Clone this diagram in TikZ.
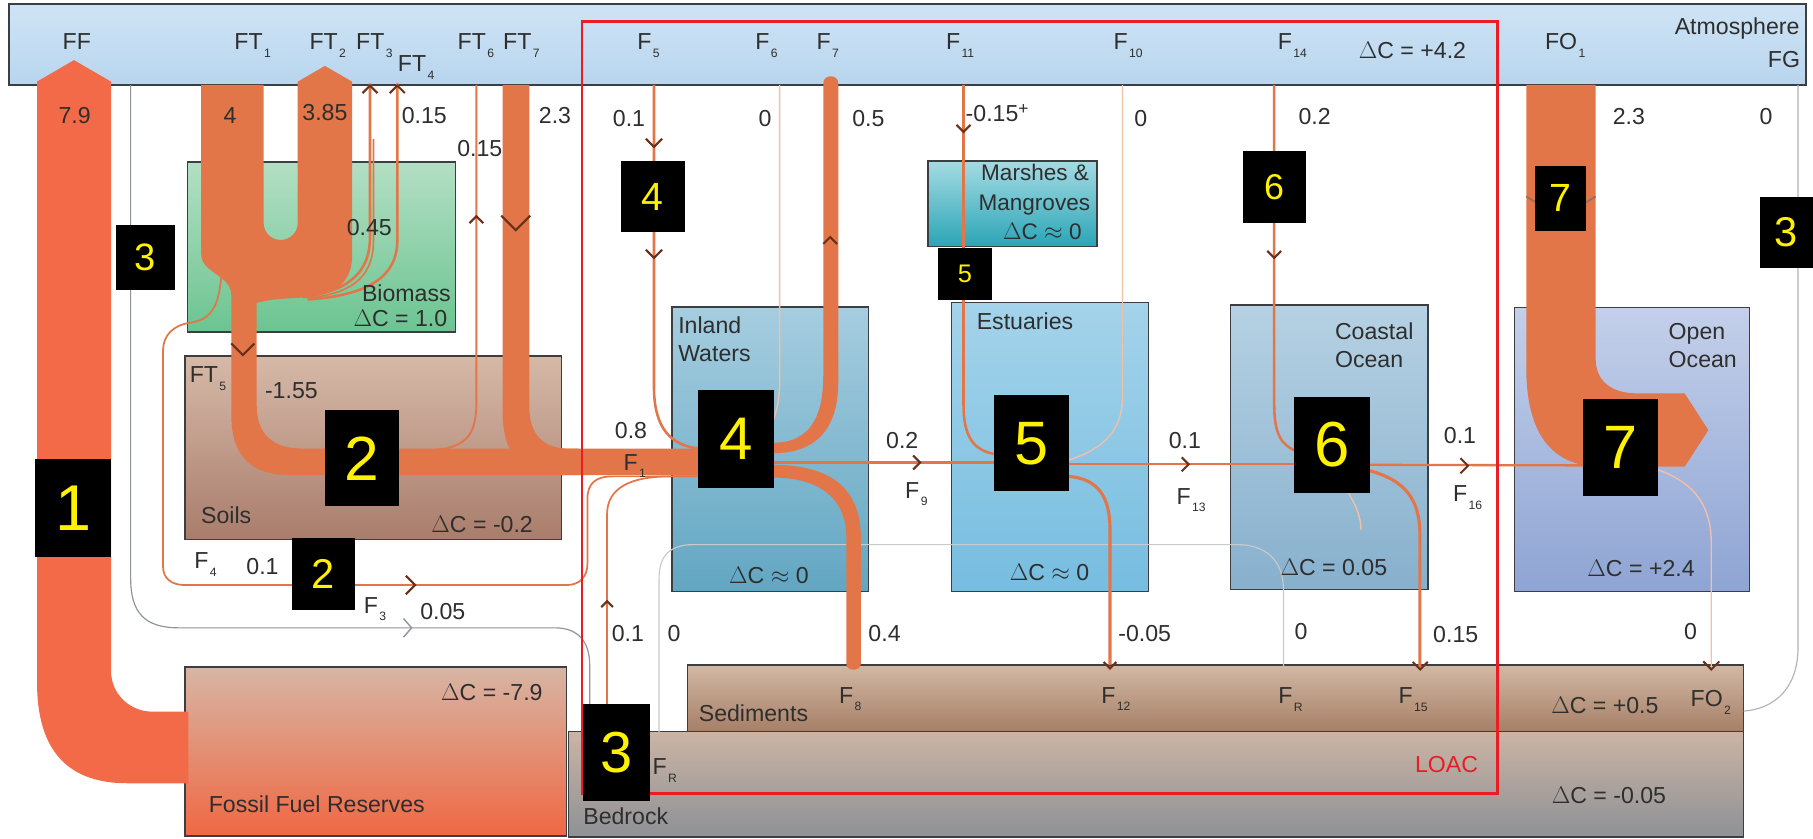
\documentclass[tikz,border=0pt]{standalone}
\usepackage{fontspec}
\setmainfont{Liberation Sans}
\definecolor{flowc}{HTML}{E27649}
\definecolor{ffc}{HTML}{F26A47}
\definecolor{chevc}{HTML}{6B3018}
\definecolor{txt}{HTML}{2E2E2E}
\definecolor{edge}{HTML}{3C3F42}
\definecolor{loac}{HTML}{EC1C24}
\definecolor{lightf}{HTML}{F2C0A8}
\definecolor{grayl}{HTML}{8E949A}
\definecolor{grayll}{HTML}{C8CACC}
\definecolor{atmT}{HTML}{CFE4F5}
\definecolor{atmB}{HTML}{B8D5EE}
\definecolor{bioT}{HTML}{B3DFC4}
\definecolor{bioB}{HTML}{6CC491}
\definecolor{soiT}{HTML}{D6B9A8}
\definecolor{soiB}{HTML}{A97D6C}
\definecolor{ffrT}{HTML}{D7B5A4}
\definecolor{ffrB}{HTML}{F06843}
\definecolor{bedT}{HTML}{CBB4A4}
\definecolor{bedB}{HTML}{8E9196}
\definecolor{sedT}{HTML}{D2B8A4}
\definecolor{sedB}{HTML}{A67F66}
\definecolor{inlT}{HTML}{A6CDE0}
\definecolor{inlB}{HTML}{62A6C2}
\definecolor{estT}{HTML}{A4D3EA}
\definecolor{estB}{HTML}{76BDE0}
\definecolor{marT}{HTML}{A5DBE3}
\definecolor{marB}{HTML}{2AA5B6}
\definecolor{coaT}{HTML}{B6D1E3}
\definecolor{coaB}{HTML}{87B0CD}
\definecolor{opeT}{HTML}{C4D0EA}
\definecolor{opeB}{HTML}{8EA4D3}
\newcommand\fsN{\fontsize{20}{24}\selectfont}
\newcommand\sbs[1]{\hspace{1.2pt}\raisebox{-6.5pt}{\fontsize{10.5}{12}\selectfont #1}}
\newcommand\chD[3]{\draw[chev] (#1,#2) ++(-#3,-#3) -- ++(#3,#3) -- ++(#3,-#3);}
\newcommand\chU[3]{\draw[chev] (#1,#2) ++(-#3,#3) -- ++(#3,-#3) -- ++(#3,#3);}
\newcommand\chR[3]{\draw[chev] (#1,#2) ++(-#3,-#3) -- ++(#3,#3) -- ++(-#3,#3);}
\begin{document}
\begin{tikzpicture}[x=1pt,y=-1pt,
  box/.style={draw=edge, line width=1.3pt, inner sep=0pt, outer sep=0pt, anchor=north west},
  lab/.style={font=\fsN, text=txt, inner sep=0pt, anchor=base},
  labw/.style={lab, anchor=base west},
  labe/.style={lab, anchor=base east},
  mk/.style={fill=black, text=yellow, inner sep=0pt, outer sep=0pt, anchor=north west},
  chev/.style={draw=chevc, line width=1.8pt},
  thinf/.style={draw=flowc, line width=2.2pt}]
\useasboundingbox (0,0) rectangle (1568,725);
\fill[white] (0,0) rectangle (1568,725);

% ---------- compartments ----------
\node[box, top color=atmT, bottom color=atmB, minimum width=1554pt, minimum height=70pt] (atm) at (8,3.5) {};
\node[box, top color=bioT, bottom color=bioB, minimum width=232pt, minimum height=147pt] (biomass) at (162,140) {};
\node[box, top color=soiT, bottom color=soiB, minimum width=325.6pt, minimum height=158.5pt] (soils) at (160,308) {};
\node[box, top color=ffrT, bottom color=ffrB, minimum width=330pt, minimum height=146pt] (ffr) at (160,577) {};
\node[box, top color=bedT, bottom color=bedB, minimum width=1016.4pt, minimum height=91pt] (bedrock) at (491.6,632.8) {};
\node[box, top color=sedT, bottom color=sedB, minimum width=913.4pt, minimum height=57.8pt] (sed) at (594.6,575) {};
\node[box, top color=inlT, bottom color=inlB, minimum width=170.3pt, minimum height=246.4pt] (inland) at (581,265.3) {};
\node[box, top color=estT, bottom color=estB, minimum width=170.4pt, minimum height=249.9pt] (estu) at (823,261.8) {};
\node[box, top color=marT, bottom color=marB, minimum width=146.1pt, minimum height=74.1pt] (marsh) at (802.5,139.2) {};
\node[box, top color=coaT, bottom color=coaB, minimum width=170.8pt, minimum height=245.9pt] (coast) at (1064.4,263.8) {};
\node[box, top color=opeT, bottom color=opeB, minimum width=203pt, minimum height=245.9pt] (open) at (1310,265.8) {};

% ---------- grey (zero / weathering) lines ----------
\draw[grayl, line width=1pt] (113,73.5) -- (113,500) .. controls (113,530) and (125,543) .. (155,543) -- (480,543) .. controls (500,543) and (510,555) .. (510,575) -- (510,633);
\draw[grayl!70, line width=1pt] (1555,73.5) -- (1555,560) .. controls (1555,595) and (1535,613) .. (1508,615);
\draw[grayll, line width=1pt] (570,633) -- (570,500) .. controls (570,480) and (580,471) .. (600,471) -- (1070,471) .. controls (1095,471) and (1110,485) .. (1110,510) -- (1110,576);
\draw[grayl, line width=1.2pt] (356,543) ++(-7,-8) -- ++(7,8) -- ++(-7,8);

% ---------- light (zero) flows ----------
\draw[lightf, line width=1.2pt] (674.3,73.5) -- (674.3,328) .. controls (674.3,345) and (672,355) .. (668,365);
\draw[lightf, line width=1.2pt] (970.8,73.5) -- (970.8,343) .. controls (970.8,372) and (955,388) .. (924,398);
\draw[lightf, line width=1.2pt] (1166,426) .. controls (1172,436) and (1177,446) .. (1177,458);
\draw[lightf, line width=1.2pt] (1433,406) .. controls (1468,418) and (1480,440) .. (1480,470) -- (1480,577);

% ---------- fluxes ----------
% FF
\fill[ffc] (163,615.5) -- (132,615.5) .. controls (112,615.5) and (96,600) .. (96,580) -- (96,70.6) -- (64,52) -- (32,70.6) -- (32,590) .. controls (32,645) and (55,677.4) .. (110,677.4) -- (163,677.4) -- cycle;
% FT1 / FT2 U merging into FT5 -> F1
\fill[flowc] (174,73.5) -- (174,220) .. controls (174,236) and (200,238) .. (200,255) -- (200,358) .. controls (200,394) and (216,411) .. (252,411) -- (606,411) -- (606,388) -- (262,388) .. controls (236,388) and (222,376) .. (222,350) -- (222,262) .. controls (236,258) and (252,258) .. (268,257) .. controls (292,254) and (304.5,242) .. (304.5,222) -- (304.5,70.6) -- (281,57) -- (257.5,70.6) -- (257.5,192.75) .. controls (257.5,201) and (251,207.5) .. (242.75,207.5) .. controls (234.5,207.5) and (228,201) .. (228,192.75) -- (228,73.5) -- cycle;
% FT7
\fill[flowc] (434.6,73.5) -- (434.6,355) .. controls (434.6,395) and (452,411) .. (485,411) -- (500,411) -- (500,388) -- (492,388) .. controls (470,388) and (457.8,376) .. (457.8,352) -- (457.8,73.5) -- cycle;
% FT3, FT4, FT6
\draw[thinf] (320,72) -- (320,205) .. controls (320,240) and (296,252) .. (262,257);
\draw[flowc, line width=1.4pt] (323,120) -- (323,208) .. controls (323,243) and (300,254) .. (266,258);
\draw[thinf] (343.6,72) -- (343.6,208) .. controls (343.6,244) and (310,256) .. (266,259);
\draw[flowc, line width=1.6pt] (378,389) .. controls (404,386) and (412,375) .. (412,348) -- (412,73.5);
% F4 and bedrock flux
\draw[flowc, line width=1.5pt] (192,232) .. controls (190,262) and (185,276) .. (165,279) .. controls (150,281) and (141,290) .. (141,303) -- (141,490) .. controls (141,500) and (148,506) .. (160,506) -- (490,506) .. controls (502,506) and (508,498) .. (508,488) -- (508,432) .. controls (508,418) and (515,412) .. (530,412) -- (604,412);
\draw[flowc, line width=1.5pt] (525,633) -- (525,445) .. controls (525,422) and (545,412) .. (580,412) -- (604,412);
% F5, F7, F8
\draw[thinf] (565.6,73.5) -- (565.6,335) .. controls (565.6,370) and (580,386) .. (606,388);
\fill[flowc] (712,72) -- (712,325) .. controls (712,368) and (695,383) .. (668,383) -- (668,392) .. controls (705,392) and (725,372) .. (725,330) -- (725,72) .. controls (725,64) and (712,64) .. (712,72) -- cycle;
\fill[flowc] (668,402) .. controls (718,402) and (744.5,422) .. (744.5,465) -- (744.5,574) .. controls (744.5,581) and (732,581) .. (732,574) -- (732,465) .. controls (732,432) and (710,413) .. (668,413) -- cycle;
% F9, F11, F12, F13
\draw[flowc, line width=3.2pt] (668,400) -- (862,400);
\draw[thinf] (833.3,73.5) -- (833.3,350) .. controls (833.3,378) and (842,390) .. (862,393);
\draw[flowc, line width=2.7pt] (924,412) .. controls (950,414) and (960,430) .. (960,458) -- (960,575);
\draw[flowc, line width=2pt] (924,401.5) -- (1121,401.5);
% F14, F15, F16
\draw[thinf] (1102,73.5) -- (1102,350) .. controls (1102,375) and (1108,385) .. (1121,390);
\draw[flowc, line width=2.7pt] (1184,407) .. controls (1215,415) and (1228,432) .. (1228,462) -- (1228,577);
\draw[flowc, line width=2pt] (1184,402) -- (1371,402.5);
% FO1
\fill[flowc] (1320,73.5) -- (1320,318) .. controls (1320,375) and (1342,403.6) .. (1385,403.6) -- (1457,403.6) -- (1477.5,372) -- (1457,340.2) -- (1416,340.2) .. controls (1394,340.2) and (1380,330) .. (1380,310) -- (1380,73.5) -- cycle;

% ---------- chevrons ----------
\chD{210}{307}{10}
\chD{446}{199}{12.5}
\chU{412}{187}{6}
\chU{320}{74}{6.5}
\chU{343.6}{74}{6.5}
\chD{565.6}{127}{7}
\chD{565.6}{223}{7}
\chU{718}{205}{6}
\chD{833.3}{114}{6}
\chD{1102}{223}{6}
\chR{359}{506}{8}
\chR{795.7}{400}{6}
\chR{1028}{401.6}{6}
\chR{1269.6}{402.8}{6.5}
\chU{525}{520}{5}
\chD{960}{578}{5.5}
\chD{1228.3}{579}{6.5}
\chD{1480}{579}{7}
\draw[chevc!70, line width=1.5pt] (1320,170) -- (1350,188) -- (1380,170);

% ---------- LOAC frame ----------
\node[draw=loac, line width=2.5pt, inner sep=0pt, outer sep=0pt, anchor=north west, minimum width=792pt, minimum height=667.3pt] (loacbox) at (503.3,18.7) {};

% ---------- labels: atmosphere row ----------
\node[labw] (tFF) at (54,43) {FF};
\node[labw] (tFT1) at (202.6,43) {FT\sbs{1}};
\node[labw] (tFT2) at (267.5,43) {FT\sbs{2}};
\node[labw] (tFT3) at (307.8,43) {FT\sbs{3}};
\node[labw] (tFT4) at (344,62) {FT\sbs{4}};
\node[labw] (tFT6) at (395.6,43) {FT\sbs{6}};
\node[labw] (tFT7) at (435,43) {FT\sbs{7}};
\node[labw] (tF5) at (551,43) {F\sbs{5}};
\node[labw] (tF6) at (653,43) {F\sbs{6}};
\node[labw] (tF7) at (706,43) {F\sbs{7}};
\node[labw] (tF11) at (818,43) {F\sbs{11}};
\node[labw] (tF10) at (963,43) {F\sbs{10}};
\node[labw] (tF14) at (1105,43) {F\sbs{14}};
\node[labw] (tdA) at (1175,51) {$\Delta$C = +4.2};
\node[labw] (tFO1) at (1336,43) {FO\sbs{1}};
\node[labe] (tatm) at (1556.5,30) {Atmosphere};
\node[labe] (tFG) at (1557,58.5) {FG};

% ---------- labels: flux values ----------
\node[lab] (v1) at (64.5,107) {7.9};
\node[lab] (v2) at (199,107) {4};
\node[lab] (v3) at (281,104.5) {3.85};
\node[lab] (v4) at (367,107) {0.15};
\node[lab] (v5) at (415,135) {0.15};
\node[lab] (v6) at (480,107) {2.3};
\node[lab] (v7) at (319.4,204) {0.45};
\node[lab] (v8) at (544,109) {0.1};
\node[lab] (v9) at (661.7,109) {0};
\node[lab] (v10) at (751,109) {0.5};
\node[labw] (v11) at (835,105) {-0.15\raisebox{6pt}{\fontsize{15}{16}\selectfont +}};
\node[lab] (v12) at (986.6,109) {0};
\node[lab] (v13) at (1137,108) {0.2};
\node[lab] (v14) at (1408.7,108) {2.3};
\node[lab] (v15) at (1527.3,108) {0};

% ---------- labels: land ----------
\node[labe] (tbio) at (390,261) {Biomass};
\node[labe] (tbioC) at (387,282) {$\Delta$C = 1.0};
\node[labw] (tFT5) at (164,331) {FT\sbs{5}};
\node[lab] (v16) at (252,344.5) {-1.55};
\node[labw] (tsoil) at (173.8,453) {Soils};
\node[lab] (tsoilC) at (417,460.7) {$\Delta$C = -0.2};
\node[labw] (tF4) at (168,492) {F\sbs{4}};
\node[lab] (v17) at (227,497) {0.1};
\node[labw] (tF3) at (314.5,530.4) {F\sbs{3}};
\node[lab] (v18) at (383,535.6) {0.05};
\node[lab] (tffC) at (425.4,606) {$\Delta$C = -7.9};
\node[labw] (tffr) at (180.4,702.5) {Fossil Fuel Reserves};

% ---------- labels: aquatic ----------
\node[lab] (v19) at (545.7,379) {0.8};
\node[labw] (tF1) at (539.2,406.5) {F\sbs{1}};
\node[labw] (tin1) at (586.4,288.3) {Inland};
\node[labw] (tin2) at (586.4,312.8) {Waters};
\node[lab] (tinC) at (665,505) {$\Delta$C $\approx$ 0};
\node[labw] (tes) at (844.6,285.4) {Estuaries};
\node[lab] (tesC) at (907.7,502) {$\Delta$C $\approx$ 0};
\node[labe, font=\fontsize{19.5}{22}\selectfont] (tma1) at (942,156.5) {Marshes \&};
\node[labe, font=\fontsize{19.5}{22}\selectfont] (tma2) at (943,182) {Mangroves};
\node[lab, font=\fontsize{19.5}{22}\selectfont] (tmaC) at (901.5,207) {$\Delta$C $\approx$ 0};
\node[lab] (v20) at (780.3,387.8) {0.2};
\node[labw] (tF9) at (782.7,431) {F\sbs{9}};
\node[lab] (v21) at (1024.8,387.8) {0.1};
\node[labw] (tF13) at (1017.3,436) {F\sbs{13}};
\node[labw] (tco1) at (1154.4,293.5) {Coastal};
\node[labw] (tco2) at (1154.4,317.7) {Ocean};
\node[lab] (tcoC) at (1153.6,497.3) {$\Delta$C = 0.05};
\node[lab] (v22) at (1262.7,383.5) {0.1};
\node[labw] (tF16) at (1256.5,433.9) {F\sbs{16}};
\node[labw] (top1) at (1443,294) {Open};
\node[labw] (top2) at (1443,317.7) {Ocean};
\node[lab] (topC) at (1419.3,498.7) {$\Delta$C = +2.4};

% ---------- labels: sediments / bedrock ----------
\node[lab] (v23) at (543,555) {0.1};
\node[lab] (v24) at (583,555) {0};
\node[lab] (v25) at (765,555) {0.4};
\node[lab] (v26) at (990,555) {-0.05};
\node[lab] (v27) at (1125.2,553.5) {0};
\node[lab] (v28) at (1259,555.8) {0.15};
\node[lab] (v29) at (1462,553.5) {0};
\node[labw] (tsed) at (604.2,624) {Sediments};
\node[labw] (tF8) at (725.6,608.3) {F\sbs{8}};
\node[labw] (tF12) at (952.3,608.3) {F\sbs{12}};
\node[labw] (tFR2) at (1105.3,608.8) {F\sbs{R}};
\node[labw] (tF15) at (1209.4,608.8) {F\sbs{15}};
\node[lab] (tsedC) at (1388,617) {$\Delta$C = +0.5};
\node[labw] (tFO2) at (1462,611.1) {FO\sbs{2}};
\node[labw] (tFR1) at (564.2,670.2) {F\sbs{R}};
\node[labw] (tbed) at (504.3,713.5) {Bedrock};
\node[lab, text=loac] (tloac) at (1251,668.2) {LOAC};
\node[lab] (tbedC) at (1391.5,694.7) {$\Delta$C = -0.05};

% ---------- black markers ----------
\node[mk, minimum width=65.5pt, minimum height=84.5pt, font=\fontsize{56}{56}\selectfont] (m1) at (30.5,397) {1};
\node[mk, minimum width=64pt, minimum height=83.4pt, font=\fontsize{54}{54}\selectfont] (m2a) at (281,354.6) {2};
\node[mk, minimum width=54.3pt, minimum height=62pt, font=\fontsize{36}{36}\selectfont] (m2b) at (252.6,465.6) {2};
\node[mk, minimum width=51pt, minimum height=56pt, font=\fontsize{33}{33}\selectfont] (m3a) at (100,195) {3};
\node[mk, minimum width=46pt, minimum height=62pt, font=\fontsize{36}{36}\selectfont] (m3b) at (1522,170) {3};
\node[mk, minimum width=58.2pt, minimum height=83.6pt, font=\fontsize{50}{50}\selectfont] (m3c) at (504.3,608.8) {3};
\node[mk, minimum width=55pt, minimum height=62pt, font=\fontsize{34}{34}\selectfont] (m4a) at (537,139) {4};
\node[mk, minimum width=65.2pt, minimum height=84.8pt, font=\fontsize{52}{52}\selectfont] (m4b) at (604,337) {4};
\node[mk, minimum width=47pt, minimum height=44.6pt, font=\fontsize{22}{22}\selectfont] (m5a) at (811,214.8) {5};
\node[mk, minimum width=65pt, minimum height=83.3pt, font=\fontsize{53}{53}\selectfont] (m5b) at (859.7,341.7) {5};
\node[mk, minimum width=54.6pt, minimum height=62pt, font=\fontsize{31}{31}\selectfont] (m6a) at (1074.7,130.6) {6};
\node[mk, minimum width=65.3pt, minimum height=83.7pt, font=\fontsize{55}{55}\selectfont] (m6b) at (1119.4,343) {6};
\node[mk, minimum width=44.7pt, minimum height=55.9pt, font=\fontsize{34}{34}\selectfont] (m7a) at (1327.3,143.6) {7};
\node[mk, minimum width=64.6pt, minimum height=83.6pt, font=\fontsize{53}{53}\selectfont] (m7b) at (1369.2,345.4) {7};
\end{tikzpicture}
\end{document}
